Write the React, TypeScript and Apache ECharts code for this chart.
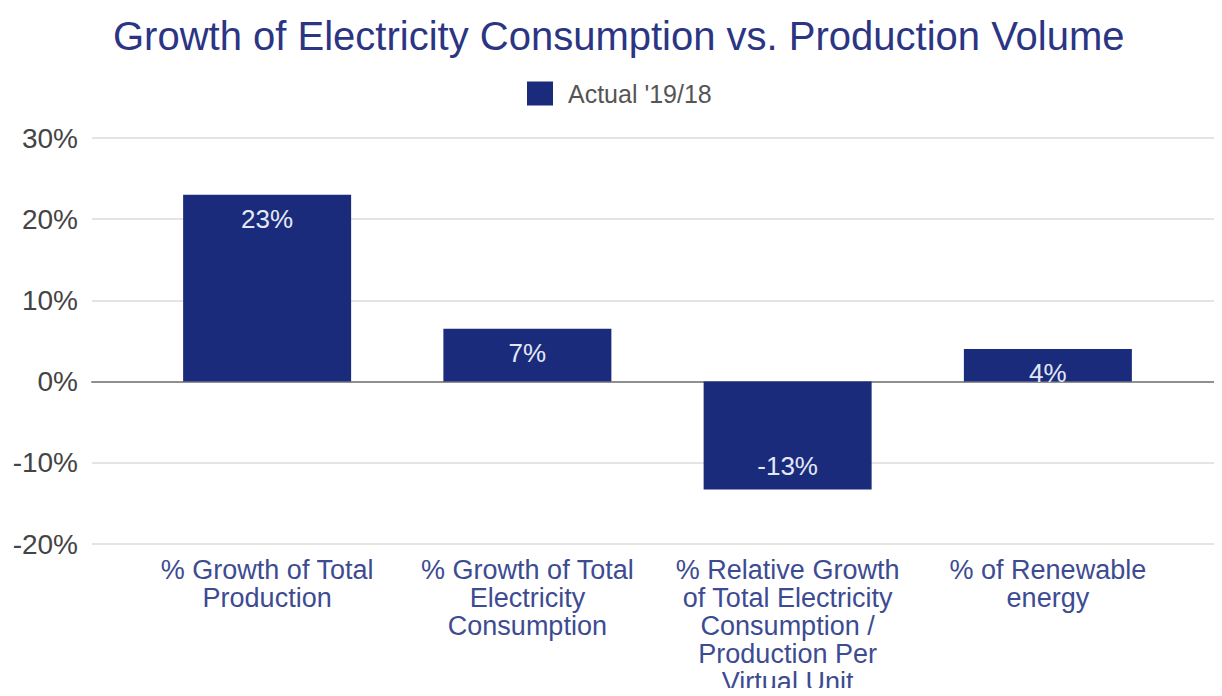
import React, { useEffect, useRef } from "react";
import * as echarts from "echarts";

const title = "Growth of Electricity Consumption vs. Production Volume";
const seriesName = "Actual '19/18";
const categories = [
  "% Growth of Total\nProduction",
  "% Growth of Total\nElectricity\nConsumption",
  "% Relative Growth\nof Total Electricity\nConsumption /\nProduction Per\nVirtual Unit",
  "% of Renewable\nenergy",
];
const values = [23.0, 6.5, -13.3, 4.0];
const yMin = -20;
const yMax = 30;
const yInterval = 10;

const FONT = "'Liberation Sans', Arial, sans-serif";
const BAR = "#1b2b7c";

export default function App() {
  const ref = useRef<HTMLDivElement>(null);
  useEffect(() => {
    if (!ref.current) return;
    const chart = echarts.init(ref.current, null, { renderer: "svg" });
    chart.setOption({
      animation: false,
      backgroundColor: "#ffffff",
      textStyle: { fontFamily: FONT },
      title: {
        text: title,
        left: 108,
        top: 11,
        textStyle: { fontFamily: FONT, fontSize: 40, fontWeight: "normal", color: "#2b3584" },
      },
      legend: {
        top: 76,
        left: 522,
        itemWidth: 26,
        itemHeight: 24,
        icon: "rect",
        textStyle: { fontFamily: FONT, fontSize: 25, color: "#555", padding: [0, 0, 0, 10] },
        data: [seriesName],
      },
      grid: [
        { left: 92, right: 0, top: 138, height: 406, outerBoundsMode: "none", containLabel: false },
        { left: 137, width: 1041, top: 138, height: 406, outerBoundsMode: "none", containLabel: false },
      ],
      xAxis: [
        {
          gridIndex: 0,
          type: "value",
          min: 0,
          max: 1,
          axisLine: { show: true, onZero: true, lineStyle: { color: "#8f8f8f", width: 2 } },
          axisTick: { show: false },
          axisLabel: { show: false },
          splitLine: { show: false },
        },
        {
          gridIndex: 1,
          type: "category",
          data: categories,
          position: "bottom",
          axisLine: { show: false, onZero: false },
          axisTick: { show: false },
          axisLabel: {
            margin: 12,
            interval: 0,
            fontFamily: FONT,
            fontSize: 27,
            lineHeight: 28,
            color: "#3d4b92",
            align: "center",
          },
        },
      ],
      yAxis: [
        {
          gridIndex: 0,
          type: "value",
          min: yMin,
          max: yMax,
          interval: yInterval,
          axisLine: { show: false },
          axisTick: { show: false },
          axisLabel: {
            margin: 14,
            fontFamily: FONT,
            fontSize: 28,
            color: "#444",
            formatter: (v: number) => `${v}%`,
          },
          splitLine: { lineStyle: { color: "#e4e4e4", width: 2 } },
        },
        {
          gridIndex: 1,
          type: "value",
          min: yMin,
          max: yMax,
          interval: yInterval,
          show: false,
          splitLine: { show: false },
        },
      ],
      series: [
        {
          name: seriesName,
          type: "bar",
          xAxisIndex: 1,
          yAxisIndex: 1,
          barWidth: 168,
          itemStyle: { color: BAR },
          label: {
            show: true,
            fontFamily: FONT,
            fontSize: 26,
            color: "#e3e8f6",
            distance: 11,
            formatter: (p: any) => `${Math.round(p.value)}%`,
          },
          data: values.map((v) => ({
            value: v,
            label: { position: v >= 0 ? "insideTop" : "insideBottom" },
          })),
        },
      ],
    });
    return () => chart.dispose();
  }, []);
  return <div ref={ref} style={{ width: 1222, height: 696, margin: -8 }} />;
}
